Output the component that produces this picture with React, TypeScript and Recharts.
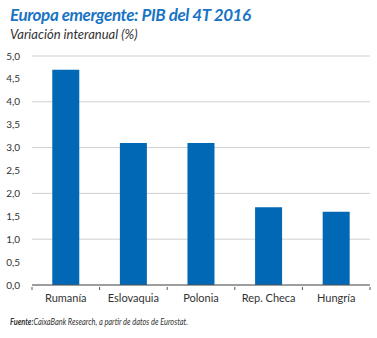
import { BarChart, Bar, XAxis, YAxis, CartesianGrid } from "recharts";

const countries = ["Rumanía", "Eslovaquia", "Polonia", "Rep. Checa", "Hungría"];
const gdpGrowth = [4.7, 3.1, 3.1, 1.7, 1.6];
const yTicks = [0, 0.5, 1, 1.5, 2, 2.5, 3, 3.5, 4, 4.5, 5];

const chartData = countries.map((name, i) => ({ name, value: gdpGrowth[i] }));

const W = 377;
const H = 310;
const margin = { top: 56, right: 7, left: 0, bottom: 5 };
const yAxisWidth = 32;
const band = (W - margin.left - margin.right - yAxisWidth) / countries.length;

const CategoryTick = ({ x, y, payload, index }: any) => {
  return (
    <g>
      <line x1={x - band / 2} x2={x - band / 2} y1={y - 3} y2={y - 6} stroke="#555" />
      {index === countries.length - 1 && (
        <line x1={x + band / 2} x2={x + band / 2} y1={y - 3} y2={y - 6} stroke="#555" />
      )}
      <text x={x} y={y + 9} textAnchor="middle" fontSize={11} fill="#333" fontFamily="Lato, sans-serif">
        {payload.value}
      </text>
    </g>
  );
};

export default function App() {
  return (
    <div style={{ position: "absolute", top: 0, left: 0, width: W, height: 338, background: "#fff", fontFamily: "Lato, sans-serif" }}>
      <BarChart width={W} height={H} data={chartData} margin={margin} barCategoryGap="30%">
        <CartesianGrid vertical={false} stroke="#cfcfcf" />
        <XAxis
          dataKey="name"
          axisLine={{ stroke: "#555" }}
          tickLine={false}
          tick={<CategoryTick />}
          height={20}
          interval={0}
        />
        <YAxis
          width={yAxisWidth}
          domain={[0, 5]}
          ticks={yTicks}
          axisLine={false}
          tickLine={false}
          tickFormatter={(v: number) => v.toFixed(1).replace(".", ",")}
          tick={{ fontSize: 10, fill: "#333", fontFamily: "Lato, sans-serif" }}
          tickMargin={6}
        />
        <Bar dataKey="value" fill="#0068b4" isAnimationActive={false} />
      </BarChart>
      <div style={{ position: "absolute", left: 10, top: 4, fontSize: 17, fontWeight: 700, fontStyle: "italic", color: "#1a74c4", letterSpacing: -0.4 }}>
        Europa emergente: PIB del 4T 2016
      </div>
      <div style={{ position: "absolute", left: 10, top: 26, fontSize: 13, fontStyle: "italic", color: "#333" }}>
        Variación interanual (%)
      </div>
      <div
        style={{
          position: "absolute",
          left: 10,
          top: 316,
          fontSize: 9.5,
          fontStyle: "italic",
          color: "#333",
          whiteSpace: "nowrap",
          transform: "scaleX(0.78)",
          transformOrigin: "left center",
        }}
      >
        <b>Fuente:</b>CaixaBank Research, a partir de datos de Eurostat.
      </div>
    </div>
  );
}
